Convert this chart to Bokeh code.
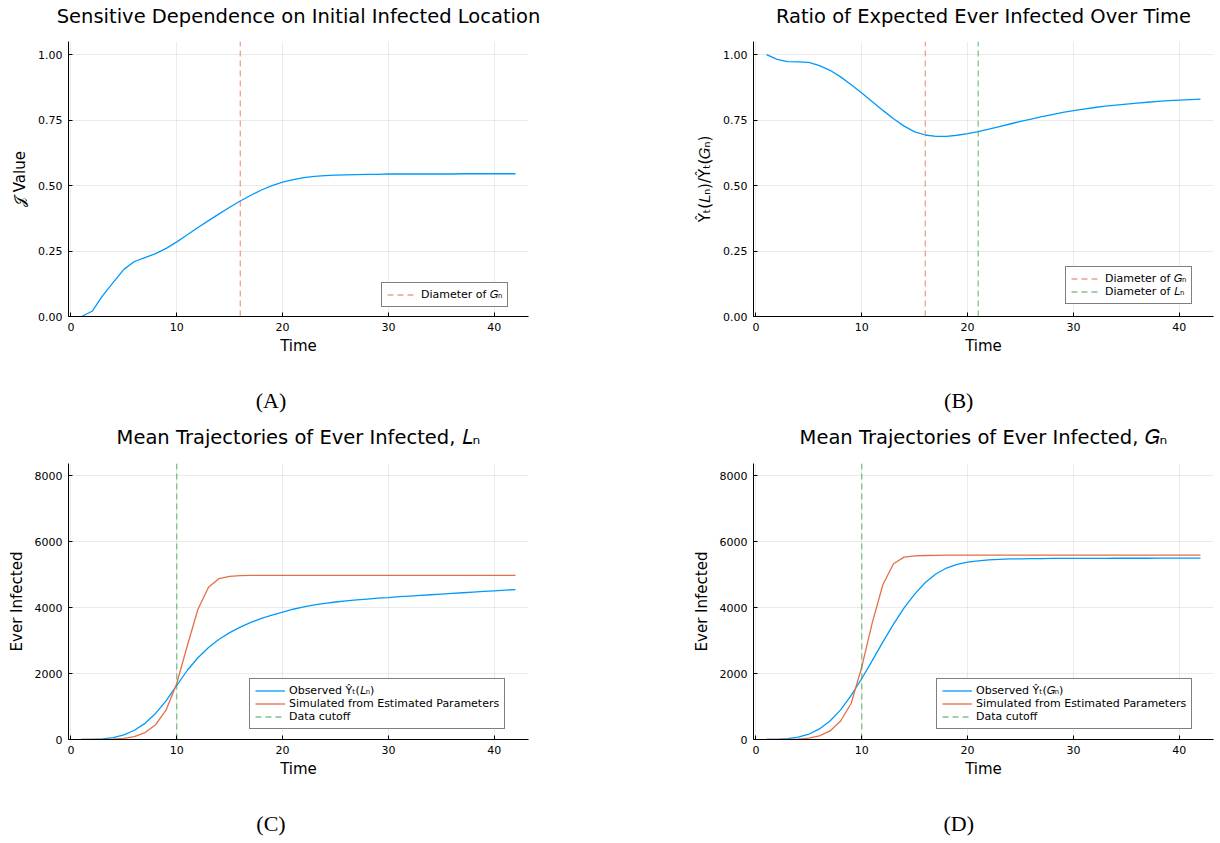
from bokeh.plotting import figure
from bokeh.layouts import gridplot
from bokeh.models import (Range1d, FixedTicker, PrintfTickFormatter, LinearAxis,
                          Legend, LegendItem)
from bokeh.embed import file_html
from bokeh.resources import INLINE

# ---- data -------------------------------------------------------------
time = list(range(1, 43))

j_value = [0.000, 0.020, 0.080, 0.130, 0.180, 0.210, 0.225, 0.240, 0.260, 0.285,
           0.312, 0.340, 0.366, 0.392, 0.417, 0.441, 0.463, 0.483, 0.500, 0.513,
           0.523, 0.530, 0.535, 0.538, 0.540, 0.541, 0.542, 0.543, 0.543, 0.544,
           0.544, 0.544, 0.544, 0.544, 0.544, 0.544, 0.545, 0.545, 0.545, 0.545,
           0.545, 0.545]

ratio = [1.000, 0.982, 0.973, 0.972, 0.970, 0.958, 0.940, 0.915, 0.885, 0.853,
         0.820, 0.787, 0.755, 0.727, 0.705, 0.693, 0.688, 0.688, 0.692, 0.698,
         0.706, 0.715, 0.725, 0.735, 0.745, 0.754, 0.763, 0.771, 0.779, 0.786,
         0.792, 0.798, 0.803, 0.807, 0.811, 0.815, 0.818, 0.821, 0.824, 0.826,
         0.828, 0.830]

observed_L = [0, 5, 20, 60, 140, 280, 490, 790, 1180, 1640,
              2100, 2480, 2790, 3040, 3240, 3410, 3550, 3670, 3770, 3860,
              3950, 4020, 4080, 4130, 4170, 4205, 4235, 4260, 4285, 4305,
              4330, 4350, 4370, 4390, 4410, 4430, 4450, 4470, 4490, 4510,
              4530, 4545]

simulated_L = [0, 1, 4, 12, 35, 90, 210, 450, 900, 1700,
               2850, 3950, 4620, 4880, 4950, 4970, 4975, 4980, 4980, 4980,
               4980, 4980, 4980, 4980, 4980, 4980, 4980, 4980, 4980, 4980,
               4980, 4980, 4980, 4980, 4980, 4980, 4980, 4980, 4980, 4980,
               4980, 4980]

observed_G = [0, 5, 25, 70, 160, 320, 560, 900, 1340, 1850,
              2400, 2960, 3500, 3990, 4410, 4760, 5020, 5200, 5310, 5380,
              5420, 5450, 5465, 5475, 5480, 5485, 5488, 5490, 5491, 5492,
              5493, 5494, 5495, 5496, 5496, 5497, 5497, 5498, 5498, 5499,
              5499, 5500]

simulated_G = [0, 1, 4, 12, 40, 110, 260, 560, 1100, 2200,
               3550, 4700, 5330, 5530, 5570, 5580, 5585, 5590, 5590, 5590,
               5590, 5590, 5590, 5590, 5590, 5590, 5590, 5590, 5590, 5590,
               5590, 5590, 5590, 5590, 5590, 5590, 5590, 5590, 5590, 5590,
               5590, 5590]

diameter_G = 16
diameter_L = 21
data_cutoff = 10

x_ticks = [0, 10, 20, 30, 40]
ratio_ticks = [0.0, 0.25, 0.5, 0.75, 1.0]
count_ticks = [0, 2000, 4000, 6000, 8000]

# ---- style ------------------------------------------------------------
BLUE = "#009AFA"
ORANGE = "#E36F47"
GREEN = "#3EA44E"
FONT = "DejaVu Sans"
SERIF = "Liberation Serif"
X_LIMITS = (-0.23, 43.23)
RATIO_TOP = 1.05
COUNT_TOP = 8370
DASH = "6 4"
NBSP = "\u00a0"


def text_axis(p, text, side, standoff, font, size):
    """A bare axis (no line, ticks or tick labels) used only to carry a text."""
    ax = LinearAxis(ticker=FixedTicker(ticks=[]), axis_label=text)
    ax.axis_line_color = None
    ax.major_tick_line_color = None
    ax.minor_tick_line_color = None
    ax.major_tick_in = 0
    ax.major_tick_out = 0
    ax.minor_tick_in = 0
    ax.minor_tick_out = 0
    ax.major_label_text_font_size = "0px"
    ax.major_label_standoff = 0
    ax.axis_label_standoff = standoff
    ax.axis_label_text_font = font
    ax.axis_label_text_font_size = size
    ax.axis_label_text_font_style = "normal"
    ax.axis_label_text_color = "black"
    p.add_layout(ax, side)


def make_panel(title, ylabel, y_top, yticks, yfmt, height, left, right, top, bottom,
               title_standoff):
    p = figure(width=610, height=height, output_backend="svg", toolbar_location=None,
               x_range=Range1d(*X_LIMITS), y_range=Range1d(0, y_top),
               min_border_left=left, min_border_right=right,
               min_border_top=top, min_border_bottom=bottom)
    p.outline_line_color = None
    p.background_fill_color = "white"
    p.border_fill_color = "white"

    p.xaxis.ticker = FixedTicker(ticks=x_ticks)
    p.yaxis.ticker = FixedTicker(ticks=yticks)
    if yfmt:
        p.yaxis.formatter = PrintfTickFormatter(format=yfmt)
    p.xaxis.axis_label = "Time"
    p.yaxis.axis_label = ylabel
    for ax in (p.xaxis, p.yaxis):
        ax.axis_label_text_font = FONT
        ax.axis_label_text_font_size = "15px"
        ax.axis_label_text_font_style = "normal"
        ax.axis_label_text_color = "black"
        ax.major_label_text_font = FONT
        ax.major_label_text_font_size = "11px"
        ax.major_label_text_color = "black"
        ax.axis_line_color = "black"
        ax.axis_line_width = 1
        ax.major_tick_line_color = "black"
        ax.major_tick_in = 4
        ax.major_tick_out = 0
        ax.minor_tick_line_color = None
        ax.major_label_standoff = 6
    p.xaxis.axis_label_standoff = 3
    p.yaxis.axis_label_standoff = 6

    p.grid.grid_line_color = "black"
    p.grid.grid_line_alpha = 0.08
    p.grid.grid_line_width = 1

    # panel title, centred over the plotting area
    text_axis(p, title, "above", title_standoff, FONT, "19.5px")
    return p


def vline(p, x, y_top, color):
    return p.line([x, x], [0, y_top], line_color=color, line_width=1.3,
                  line_dash=DASH, line_alpha=0.65)


def add_legend(p, items, loc):
    leg = Legend(items=[LegendItem(label=t, renderers=[r]) for t, r in items],
                 location=loc)
    leg.label_text_font = FONT
    leg.label_text_font_size = "11px"
    leg.label_text_color = "black"
    leg.glyph_width = 30
    leg.glyph_height = 13
    leg.label_height = 13
    leg.label_standoff = 4
    leg.spacing = 0
    leg.padding = 5
    leg.margin = 0
    leg.border_line_color = "black"
    leg.border_line_width = 1
    leg.background_fill_color = "white"
    leg.background_fill_alpha = 1
    p.add_layout(leg)


def caption(p, letter, pad):
    # sub-figure tag under the x axis, nudged left by trailing no-break spaces
    text_axis(p, "(" + letter + ")" + NBSP * pad, "below", 30, SERIF, "22px")


# (A) sensitivity value
pa = make_panel("Sensitive Dependence on Initial Infected Location", "𝒥 Value",
                RATIO_TOP, ratio_ticks, "%.2f", 421, 64, 82, 41, 105, 14)
pa.line(time, j_value, line_color=BLUE, line_width=1.3)
va = vline(pa, diameter_G, RATIO_TOP, ORANGE)
add_legend(pa, [("Diameter of 𝐺ₙ", va)], (313, 9))
caption(pa, "A", 10)

# (B) ratio of expected ever infected
pb = make_panel("Ratio of Expected Ever Infected Over Time", "Ŷₜ(𝐿ₙ)/Ŷₜ(𝐺ₙ)",
                RATIO_TOP, ratio_ticks, "%.2f", 421, 141, 7, 41, 105, 14)
pb.line(time, ratio, line_color=BLUE, line_width=1.3)
vb1 = vline(pb, diameter_G, RATIO_TOP, ORANGE)
vb2 = vline(pb, diameter_L, RATIO_TOP, GREEN)
add_legend(pb, [("Diameter of 𝐺ₙ", vb1), ("Diameter of 𝐿ₙ", vb2)], (312, 12))
caption(pb, "B", 9)

# (C) trajectories from L_n
pc = make_panel("Mean Trajectories of Ever Infected, 𝐿ₙ", "Ever Infected",
                COUNT_TOP, count_ticks, None, 422, 68, 82, 42, 104, 15)
rc1 = pc.line(time, observed_L, line_color=BLUE, line_width=1.3)
rc2 = pc.line(time, simulated_L, line_color=ORANGE, line_width=1.3)
rc3 = vline(pc, data_cutoff, COUNT_TOP, GREEN)
add_legend(pc, [("Observed Ŷₜ(𝐿ₙ)", rc1),
                ("Simulated from Estimated Parameters", rc2),
                ("Data cutoff", rc3)], (181, 10))
caption(pc, "C", 10)

# (D) trajectories from G_n
pd_ = make_panel("Mean Trajectories of Ever Infected, 𝐺ₙ", "Ever Infected",
                 COUNT_TOP, count_ticks, None, 422, 143, 7, 42, 104, 15)
rd1 = pd_.line(time, observed_G, line_color=BLUE, line_width=1.3)
rd2 = pd_.line(time, simulated_G, line_color=ORANGE, line_width=1.3)
rd3 = vline(pd_, data_cutoff, COUNT_TOP, GREEN)
add_legend(pd_, [("Observed Ŷₜ(𝐺ₙ)", rd1),
                 ("Simulated from Estimated Parameters", rd2),
                 ("Data cutoff", rd3)], (183, 10))
caption(pd_, "D", 9)

grid = gridplot([[pa, pb], [pc, pd_]], toolbar_location=None)

open("out.html", "w").write(file_html(grid, INLINE))
